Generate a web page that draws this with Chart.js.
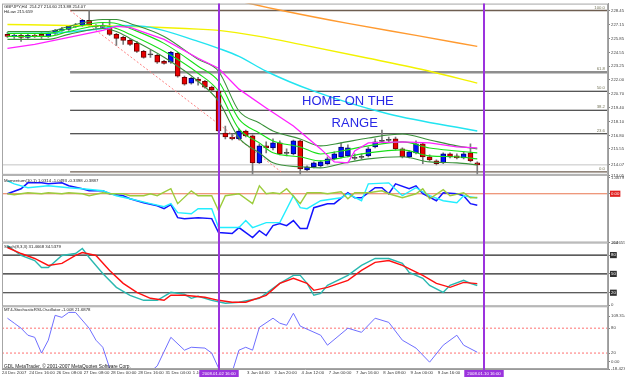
<!DOCTYPE html>
<html><head><meta charset="utf-8">
<script src="https://cdn.jsdelivr.net/npm/chart.js@4.4.1/dist/chart.umd.min.js"></script>
<style>html,body{margin:0;padding:0;background:#fff;}canvas{display:block;}</style>
</head><body>
<canvas id="c" width="625" height="377"></canvas>
<script>
// ---------- DATA (GBPJPY H4) ----------
const opens = [226.23,226.04,226.13,225.95,226.13,226.23,226.04,226.32,226.60,226.69,
 226.97,227.06,227.53,226.97,226.88,226.97,226.23,225.95,225.67,225.39,
 224.65,224.37,224.28,223.72,223.63,224.46,222.23,221.68,222.05,221.86,
 221.31,220.93,217.03,216.66,216.48,217.22,216.76,214.25,215.83,215.64,
 216.11,215.18,215.08,216.29,213.60,213.88,213.97,214.16,214.62,214.81,
 214.90,214.71,214.81,214.90,215.73,216.29,216.38,216.48,215.55,214.81,
 215.18,216.01,214.81,214.43,214.25,215.08,214.90,214.71,215.18,214.25];
const highs = [226.41,226.32,226.23,226.23,226.32,226.41,226.50,226.69,226.88,227.06,
 227.25,227.62,228.45,227.15,227.25,227.53,226.32,226.04,225.76,225.58,
 224.74,224.74,224.37,223.81,224.65,224.55,222.33,222.23,222.23,221.95,
 221.40,221.12,217.68,216.94,217.41,217.31,216.85,216.01,216.20,216.48,
 216.29,215.55,216.38,216.38,213.97,214.34,214.43,214.81,215.27,216.11,
 215.92,215.08,215.08,215.73,216.48,217.31,216.66,216.66,215.64,215.36,
 216.29,216.11,214.99,214.53,215.18,215.18,215.08,215.27,216.01,214.34];
const lows = [225.95,225.85,225.58,225.85,225.95,225.85,225.95,226.23,226.50,226.60,
 226.88,226.97,226.97,226.78,226.78,226.13,225.20,225.30,225.20,224.55,
 224.00,224.09,223.53,223.44,223.53,222.23,221.49,221.58,221.49,221.21,
 220.93,217.13,216.48,216.38,216.38,216.66,212.95,214.16,215.18,215.46,
 214.99,214.90,214.99,213.13,213.51,213.78,213.88,214.06,214.53,214.71,
 214.81,214.53,214.62,214.81,215.64,216.11,216.20,215.46,214.71,214.71,
 215.08,214.16,214.43,214.06,214.16,214.71,214.62,214.62,214.34,213.04];
const closes = [226.04,226.13,225.95,226.13,226.04,226.04,226.32,226.60,226.69,226.97,
 227.06,227.53,227.06,226.92,227.06,226.23,225.85,225.67,225.30,224.65,
 224.09,224.32,223.63,223.53,224.55,222.33,221.58,222.14,221.86,221.31,
 221.03,217.22,216.66,216.48,217.22,216.76,214.25,215.83,215.64,216.11,
 215.08,215.13,216.29,213.69,213.88,214.25,214.34,214.62,215.08,215.73,
 215.64,214.67,214.76,215.55,216.20,216.25,216.34,215.55,214.81,215.27,
 216.01,214.81,214.53,214.16,215.08,214.81,214.71,215.08,214.43,214.06];

// moving averages: [bar, price]
const orangeMA = [[20,231.70],[30,230.03],[35,229.20],[41,228.36],[50,227.25],[60,226.13],[69,225.11]];
const yellowMA = [[0,227.15],[9,227.06],[14,227.02],[21,226.92],[28,226.72],[31,226.60],[37,226.04],[43,225.30],[53,224.00],[62,222.79],[69,221.68]];
const cyanMA = [[0,226.32],[8,226.41],[14,226.78],[17,227.06],[21,226.88],[28,225.58],[31,224.93],[34,224.18],[38,222.79],[45,220.93],[56,218.80],[69,217.22]];
const hiLow = [[0,224.93],[4,225.30],[9,225.95],[14,226.60],[16,226.97],[18,226.88],[23,225.76],[28,224.00],[31,223.07],[34,221.12],[38,219.36],[42,217.68],[46,215.55],[48,214.34],[50,214.25],[51,215.36],[53,216.11],[58,216.20],[62,216.11],[66,215.73],[69,215.64]];
const greenBars = [0,6,9,14,16,18,23,28,31,34,37,39,43,46,49,53,58,62,66,69];
const greenOuterUp = [226.50,226.50,226.97,227.62,227.62,227.25,226.04,223.90,222.79,219.08,217.96,217.22,216.48,215.83,216.11,216.57,216.94,216.38,215.83,215.55];
const greenInnerUp = [226.32,226.32,226.78,227.34,227.25,226.78,225.39,223.26,221.86,218.33,217.03,216.29,215.73,215.08,215.36,215.83,216.20,215.64,215.36,215.18];
const greenInnerDn = [226.04,226.04,226.50,227.06,226.78,226.23,224.65,222.60,220.93,217.41,216.11,215.18,214.81,214.43,214.71,215.18,215.46,214.90,214.81,214.62];
const greenOuterDn = [225.76,225.76,226.23,226.78,226.50,225.85,224.09,221.86,220.00,216.57,215.18,214.25,213.88,213.78,214.16,214.62,214.81,214.34,214.25,214.06];

// Fibonacci retracement
const fibHigh = 228.45, fibLow = 213.41, fibStartBar = 9.2, fibEndBar = 40.2;
const fibLevels = [100, 61.8, 50, 38.2, 23.6, 0];

// Momentum panel: [bar, value]
const momBlue = [[0,0.00],[2,0.46],[3,1.00],[5,1.00],[6,0.91],[8,1.00],[9,0.73],[11,0.46],[12,0.27],[14,0.27],[15,0.00],[17,-0.18],[18,-0.46],[20,-0.82],[22,-1.10],[23,-1.37],[24,-1.00],[25,-2.19],[26,-2.28],[28,-2.19],[30,-2.28],[31,-3.56],[33,-3.65],[34,-3.10],[36,-4.02],[37,-3.38],[38,-3.83],[39,-2.92],[40,-2.74],[41,-2.92],[42,-2.46],[43,-3.19],[44,-3.19],[45,-1.28],[47,-0.91],[48,-0.91],[50,0.09],[51,-0.37],[52,-0.37],[54,0.55],[55,0.55],[56,0.00],[57,0.91],[59,0.46],[60,0.73],[61,0.00],[63,-0.64],[64,0.09],[66,0.00],[67,-0.18],[68,-0.91],[69,-1.05]];
const momCyan = [[0,1.19],[1,0.91],[3,0.55],[6,0.73],[9,0.55],[11,0.46],[14,0.27],[16,-0.18],[18,-0.46],[21,-0.91],[23,-1.19],[24,-0.91],[25,-1.73],[27,-1.83],[28,-1.37],[30,-1.37],[31,-3.10],[34,-3.10],[35,-2.46],[36,-3.10],[38,-2.65],[40,-2.65],[42,-0.18],[43,-1.28],[44,-1.37],[46,-0.64],[49,-0.37],[50,0.00],[52,-0.64],[53,0.91],[56,1.00],[58,-0.18],[60,0.55],[62,-0.18],[64,-0.64],[66,-0.82],[67,-0.18],[69,-0.39]];
const momOlive = [[0,0.00],[1,-0.09],[2,0.00],[3,0.09],[5,0.00],[6,0.09],[8,0.00],[9,0.09],[11,0.00],[12,-0.18],[14,0.09],[15,0.00],[17,0.00],[18,-0.18],[20,-0.18],[21,0.00],[22,-0.18],[24,0.46],[25,-0.91],[27,0.27],[28,-0.18],[30,-0.18],[31,-1.55],[32,-0.18],[34,0.00],[36,-0.91],[37,0.73],[38,0.00],[39,0.09],[40,0.00],[41,0.46],[43,-0.91],[44,0.09],[46,0.09],[47,0.00],[49,0.18],[50,-0.46],[51,0.09],[53,0.09],[55,0.27],[56,0.00],[58,-0.37],[60,0.00],[61,0.46],[62,-0.46],[64,0.37],[65,-0.18],[67,0.09],[68,-0.37],[69,-0.34]];

// Stochastic panel
const stochMain = [[0,95.2],[2,79.4],[4,71.4],[5,60.3],[6,60.3],[8,79.4],[10,82.5],[11,90.5],[12,76.2],[14,50.8],[16,28.6],[18,15.9],[20,7.9],[22,7.9],[24,20.6],[26,17.5],[27,11.1],[28,14.3],[30,7.9],[32,3.2],[34,4.8],[37,11.1],[38,19.0],[40,34.9],[42,47.6],[43,47.6],[44,34.9],[45,15.9],[46,19.0],[47,31.7],[50,47.6],[52,63.5],[54,74.6],[56,74.6],[58,66.7],[59,52.4],[61,42.9],[62,31.7],[64,20.6],[65,31.7],[67,39.7],[68,34.9],[69,31.5]];
const stochSignal = [[0,92.1],[2,82.5],[4,74.6],[6,63.5],[8,66.7],[10,79.4],[11,84.1],[13,79.4],[15,55.6],[17,34.9],[19,20.6],[21,11.1],[23,7.9],[24,15.9],[26,15.9],[29,12.7],[31,7.9],[33,4.8],[35,4.8],[38,15.9],[40,34.9],[42,42.9],[44,34.9],[45,23.8],[47,28.6],[50,39.7],[52,55.6],[54,68.3],[56,71.4],[58,63.5],[61,47.6],[63,34.9],[65,28.6],[67,36.5],[69,34.5]];
const stochLevels = [80, 50, 20];

// StochasticRSI panel
const stochRsi = [[0,104],[1,92],[2,80],[3,63],[4,58],[5,20],[6,51],[7,111],[8,106],[9,118],[10,118],[12,80],[13,51],[14,34],[15,-16],[17,-40],[19,-45],[21,-25],[22,-11],[24,58],[26,27],[27,34],[29,32],[30,20],[31,-16],[33,-26],[34,27],[35,34],[36,27],[37,82],[39,104],[40,92],[41,87],[42,116],[43,85],[46,63],[47,39],[50,80],[52,70],[54,104],[56,94],[58,51],[60,32],[62,-2],[64,39],[66,63],[67,39],[69,22]];
const rsiLevels = [80, 20];

// axis ticks
const priceTicks = [228.45,227.15,225.85,224.55,223.25,222.00,220.70,219.40,218.10,216.80,215.55,214.07,213.05];
const momTicks = [1.4679, 0, -4.4655];
const momTickLabels = ['1.4679','0.00','-4.4655'];
const stochTicks = [100, 80, 50, 20, 0];
const rsiTicks = [109.314, 80, 20, 0, -18.4237];
const rsiTickLabels = ['109.314','80','20','0.00','-18.4237'];
const timeLabelBars = [0,4,8,12,16,20,24,28,36,40,44,48,52,56,60,64];
const timeLabels = ['24 Dec 2007','24 Dec 16:00','26 Dec 08:00','27 Dec 08:00','28 Dec 00:00','28 Dec 16:00','31 Dec 04:00','1 Jan 00:00','3 Jan 04:00','3 Jan 20:00','4 Jan 12:00','7 Jan 00:00','7 Jan 16:00','8 Jan 08:00','9 Jan 00:00','9 Jan 16:00'];
const vLineBars = [31, 70];
const vLineLabels = ['2008.01.02 16:00','2008.01.10 16:00'];
const textObjects = [{text:'HOME ON THE', bar:50.0, price:220.0},{text:'RANGE', bar:51.0, price:217.92}];
const headerLine1 = 'GBPJPY,H4  214.27 214.60 213.88 214.07';
const headerLine2 = 'HiLow 215.659';
const momLabel = 'Momentum(10,1) 1.0314 -1.0493 -0.3398 -0.3887';
const stochLabel = 'Stoch(8,3,3) 31.4668 34.5379';
const rsiLabel = 'MT4-StochasticRSI-Oscillator -1.008 21.6878';
const footerLabel = 'GDL MetaTrader, \u00a9 2001-2007 MetaQuotes Software Corp.';

// ---------- CHART ----------
const X_MIN = -0.8, X_MAX = 88.2;
const FONT = '"Liberation Sans", Arial, sans-serif';
Chart.defaults.font.family = FONT;
const lastClose = closes[closes.length - 1];
const pairs = arr => arr.map(([x, y]) => ({x, y}));
const zip = (xs, ys) => xs.map((x, i) => ({x, y: ys[i]}));
const flat = (v, from, to) => [{x: from, y: v}, {x: to, y: v}];
const line = (data, axis, color, width, extra) => Object.assign({
  type:'line', data, yAxisID: axis, borderColor: color, borderWidth: width,
  pointRadius: 0, pointHoverRadius: 0, fill: false, tension: 0, order: 1
}, extra || {});
const isDoji = r => Math.abs(r.y[0] - r.y[1]) < 0.06;

const datasets = [
  // indicator lines (top)
  line(pairs(hiLow), 'yP', '#ff22ff', 1.3),
  line(zip(greenBars, greenOuterUp), 'yP', '#3a913a', 1.1, {cubicInterpolationMode:'monotone'}),
  line(zip(greenBars, greenInnerUp), 'yP', '#18e018', 1.1, {cubicInterpolationMode:'monotone'}),
  line(zip(greenBars, greenInnerDn), 'yP', '#18e018', 1.1, {cubicInterpolationMode:'monotone'}),
  line(zip(greenBars, greenOuterDn), 'yP', '#3a913a', 1.1, {cubicInterpolationMode:'monotone'}),
  line(pairs(cyanMA), 'yP', '#22e4f0', 1.4, {cubicInterpolationMode:'monotone'}),
  line(pairs(yellowMA), 'yP', '#f2f200', 1.4, {cubicInterpolationMode:'monotone'}),
  line(pairs(orangeMA), 'yP', '#ff9a30', 1.4, {cubicInterpolationMode:'monotone'}),
  // candles
  { type:'bar', yAxisID:'yP', order:2, grouped:false, barThickness:5, borderWidth:1, borderSkipped:false, minBarLength:1,
    data: opens.map((o, i) => ({x: i, y: [o, closes[i]]})),
    backgroundColor: ctx => { const r = ctx.raw; if (!r) return '#000'; return isDoji(r) ? '#404040' : (r.y[1] < r.y[0] ? '#e80000' : '#0010ff'); },
    borderColor: ctx => { const r = ctx.raw; if (!r) return '#000'; return isDoji(r) ? '#404040' : (r.y[1] < r.y[0] ? '#700000' : '#000070'); } },
  { type:'bar', yAxisID:'yP', order:3, grouped:false, barThickness:1, borderWidth:0,
    data: opens.map((o, i) => ({x: i, y: [lows[i], highs[i]]})), backgroundColor:'#7a7a7a' },
  // fib diagonal + levels
  line([{x: fibStartBar, y: fibHigh}, {x: fibEndBar, y: fibLow}], 'yP', '#ff8080', 1, {borderDash:[2,2], order:7}),
  ...fibLevels.map(l => line(flat(fibLow + (fibHigh - fibLow) * l / 100, fibStartBar, X_MAX), 'yP',
      l === 61.8 ? '#8e8e8e' : (l === 100 || l === 0 ? '#6e5e50' : '#1e1e1e'),
      l === 61.8 ? 2.5 : (l === 100 ? 1.6 : 1.1), {order:8})),
  line(flat(lastClose, X_MIN, X_MAX), 'yP', '#c4c4c4', 1, {order:9}),
  // momentum
  line(pairs(momOlive), 'yM', '#9ccc3c', 1.4),
  line(pairs(momCyan), 'yM', '#22eeff', 1.4),
  line(pairs(momBlue), 'yM', '#1414ff', 1.5),
  line(flat(0, X_MIN, X_MAX), 'yM', '#e8764f', 1, {order:8}),
  // stochastic
  line(pairs(stochSignal), 'yS', '#ff1010', 1.4),
  line(pairs(stochMain), 'yS', '#2ab8b0', 1.4),
  ...stochLevels.map(l => line(flat(l, X_MIN, X_MAX), 'yS', '#262626', 1.1, {order:8})),
  // stochRSI
  line(pairs(stochRsi), 'yR', '#6f6fff', 1),
  ...rsiLevels.map(l => line(flat(l, X_MIN, X_MAX), 'yR', '#ff7070', 1, {borderDash:[2,2], order:8}))
];

const yAxis = (extra) => Object.assign({
  type:'linear', axis:'y', position:'right', stack:'panels', offset:false, beginAtZero:false,
  grid:{display:true, drawOnChartArea:false, drawTicks:true, tickLength:2, color:'#808080'},
  border:{display:true, color:'#9a9a9a', width:1},
  afterFit: s => { s.width = 17; }
}, extra);
const tickBase = {font:{size:4.3}, color:'#444', padding:1, autoSkip:false, maxRotation:0, minRotation:0,
  backdropPadding:{top:0.5, bottom:0.5, left:1, right:1}};

const overlay = {
  id:'overlay',
  afterDatasetsDraw(chart) {
    const {ctx, chartArea: ca, scales: s} = chart;
    ctx.save();
    // fib labels
    ctx.font = '4.3px ' + FONT; ctx.fillStyle = '#75755a'; ctx.textAlign = 'right'; ctx.textBaseline = 'bottom';
    fibLevels.forEach(l => {
      const y = s.yP.getPixelForValue(fibLow + (fibHigh - fibLow) * l / 100);
      ctx.fillText(l.toFixed(1), ca.right - 3, y - 1);
    });
    // text objects
    ctx.font = '13px ' + FONT; ctx.fillStyle = '#2828e6'; ctx.textAlign = 'center'; ctx.textBaseline = 'middle';
    textObjects.forEach(t => ctx.fillText(t.text, s.x.getPixelForValue(t.bar), s.yP.getPixelForValue(t.price)));
    // panel frames
    ctx.strokeStyle = '#a6a6a6'; ctx.lineWidth = 1;
    ['yP','yM','yS','yR'].forEach(id => {
      const sc = s[id];
      ctx.strokeRect(ca.left + 0.5, sc.top + 0.5, ca.right - ca.left - 1, sc.bottom - sc.top - 1);
    });
    // panel labels
    ctx.font = '4.3px ' + FONT; ctx.fillStyle = '#222'; ctx.textAlign = 'left'; ctx.textBaseline = 'middle';
    ctx.fillText(headerLine1, ca.left + 2, s.yP.top + 3);
    ctx.fillText(headerLine2, ca.left + 2, s.yP.top + 8);
    ctx.fillText(momLabel, ca.left + 2, s.yM.top + 6);
    ctx.fillText(stochLabel, ca.left + 2, s.yS.top + 4);
    ctx.fillText(rsiLabel, ca.left + 2, s.yR.top + 4);
    ctx.font = '4.8px ' + FONT;
    ctx.fillText(footerLabel, ca.left + 2, s.yR.bottom - 2.5);
    // vertical lines
    ctx.strokeStyle = '#9b33dd'; ctx.lineWidth = 2;
    vLineBars.forEach(b => {
      const x = Math.round(s.x.getPixelForValue(b));
      ctx.beginPath(); ctx.moveTo(x, ca.top); ctx.lineTo(x, ca.bottom + 1); ctx.stroke();
    });
    ctx.restore();
  },
  afterDraw(chart) {
    const {ctx, chartArea: ca, scales: s} = chart;
    ctx.save();
    ctx.font = '4.3px ' + FONT; ctx.textAlign = 'center'; ctx.textBaseline = 'middle';
    vLineBars.forEach((b, i) => {
      const x = Math.round(s.x.getPixelForValue(b));
      const w = ctx.measureText(vLineLabels[i]).width + 6;
      ctx.fillStyle = '#9b33dd';
      ctx.fillRect(x - w / 2, ca.bottom + 1, w, chart.height - ca.bottom - 1);
      ctx.fillStyle = '#ffffff';
      ctx.fillText(vLineLabels[i], x, ca.bottom + 4.5);
    });
    ctx.restore();
  }
};

new Chart(document.getElementById('c'), {
  type:'line',
  data:{datasets},
  options:{
    responsive:false, animation:false, devicePixelRatio:1,
    layout:{padding:{top:2, left:2, right:0, bottom:0}, autoPadding:false},
    plugins:{legend:{display:false}, tooltip:{enabled:false}},
    events:[],
    scales:{
      x:{type:'linear', axis:'x', position:'bottom', min:X_MIN, max:X_MAX, offset:false,
        grid:{display:true, drawOnChartArea:false, drawTicks:true, tickLength:1, color:'#808080', offset:false},
        border:{display:true, color:'#9a9a9a'},
        ticks:Object.assign({}, tickBase, {color:'#333', padding:0, align:'start', callback:(v, i) => timeLabels[i]}),
        afterBuildTicks: sc => { sc.ticks = timeLabelBars.map(b => ({value: b - 0.8})); },
        afterFit: sc => { sc.height = 8; }
      },
      yP: yAxis({weight:1, stackWeight:172, min:213.13, max:229.10,
        afterBuildTicks: sc => { sc.ticks = priceTicks.map(v => ({value: v})); },
        ticks:Object.assign({}, tickBase, {
          callback: v => v.toFixed(2),
          showLabelBackdrop: c => c.tick && c.tick.value === lastClose,
          backdropColor: '#000000',
          color: c => (c.tick && c.tick.value === lastClose) ? '#ffffff' : '#444'
        })}),
      yM: yAxis({weight:2, stackWeight:68, min:-4.473, max:1.734,
        afterBuildTicks: sc => { sc.ticks = momTicks.map(v => ({value: v})); },
        ticks:Object.assign({}, tickBase, {
          callback: (v, i) => momTickLabels[i],
          showLabelBackdrop: c => c.tick && c.tick.value === 0,
          backdropColor: '#e02020',
          color: c => (c.tick && c.tick.value === 0) ? '#ffffff' : '#444'
        })}),
      yS: yAxis({weight:3, stackWeight:64, min:-1.6, max:100,
        afterBuildTicks: sc => { sc.ticks = stochTicks.map(v => ({value: v})); },
        ticks:Object.assign({}, tickBase, {
          callback: v => String(v),
          showLabelBackdrop: c => c.tick && stochLevels.includes(c.tick.value),
          backdropColor: '#303030',
          color: c => (c.tick && stochLevels.includes(c.tick.value)) ? '#ffffff' : '#444'
        })}),
      yR: yAxis({weight:4, stackWeight:63, min:-18.4237, max:132.8,
        afterBuildTicks: sc => { sc.ticks = rsiTicks.map(v => ({value: v})); },
        ticks:Object.assign({}, tickBase, {callback: (v, i) => rsiTickLabels[i]})})
    }
  },
  plugins:[overlay]
});
</script>
</body></html>
